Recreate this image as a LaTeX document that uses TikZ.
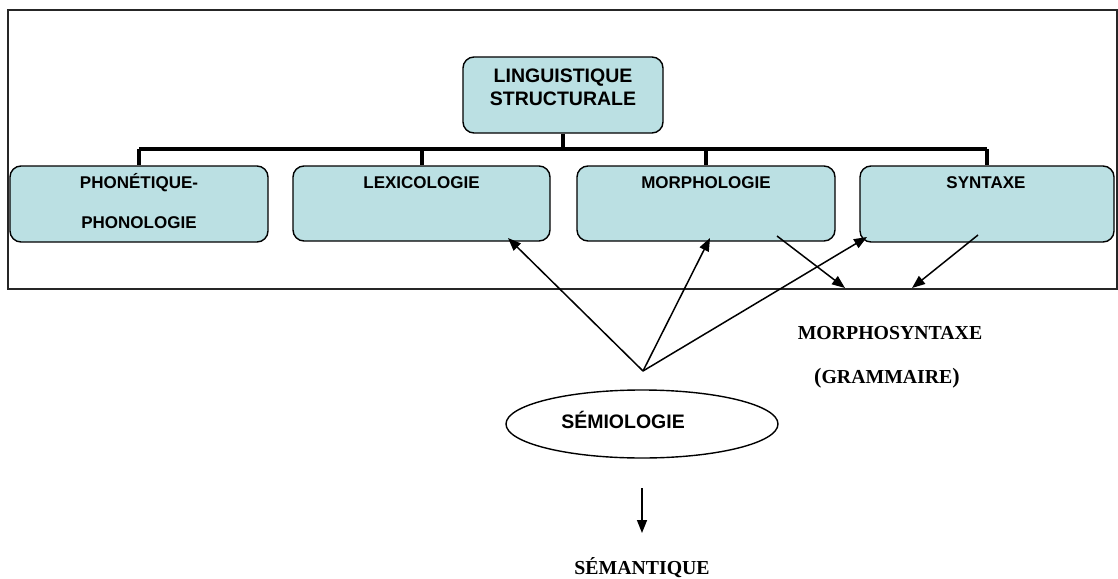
\documentclass[tikz,border=0pt]{standalone}
\usepackage{fontspec}
\setmainfont{Liberation Serif}
\setsansfont{Liberation Sans}
\usetikzlibrary{arrows.meta,shapes.geometric}
\definecolor{boxblue}{RGB}{187,224,227}
\begin{document}
\begin{tikzpicture}[x=1pt,y=-1pt,
  box/.style={draw=black, line width=1.4pt, fill=boxblue, rounded corners=11pt, inner sep=0pt},
  lbl/.style={font=\sffamily\bfseries\fontsize{17}{20}\selectfont, inner sep=0pt},
  toplbl/.style={font=\sffamily\bfseries\fontsize{19.5}{23}\selectfont, inner sep=0pt, align=center},
  serif/.style={font=\rmfamily\bfseries\fontsize{19.8}{23}\selectfont, inner sep=0pt},
  bus/.style={line width=4pt},
  arr/.style={line width=1.5pt, -{Triangle[length=13pt,width=10pt]}}]
\useasboundingbox (0,0) rectangle (1118,578);
% outer frame
\node[draw=black!85, line width=1.5pt, minimum width=1109, minimum height=279, inner sep=0pt] (frame) at (562.5,149.5) {};
% top node
\node[box, minimum width=200, minimum height=76] (top) at (563,95) {};
\node[toplbl] (toptxt) at (563,87) {LINGUISTIQUE\\STRUCTURALE};
% boxes
\node[box, minimum width=258, minimum height=76] (phon) at (139,204) {};
\node[box, minimum width=257, minimum height=75] (lex) at (421.5,203.5) {};
\node[box, minimum width=258, minimum height=75] (morph) at (706,203.5) {};
\node[box, minimum width=254, minimum height=76] (synt) at (987,204) {};
\node[lbl] (phontxt1) at (139,183) {PHONÉTIQUE-};
\node[lbl] (phontxt2) at (139,223) {PHONOLOGIE};
\node[lbl] (lextxt) at (421.5,183) {LEXICOLOGIE};
\node[lbl] (morphtxt) at (706,183) {MORPHOLOGIE};
\node[lbl] (synttxt) at (986,183) {SYNTAXE};
% bus
\coordinate (busL) at (phon.north |- 0,149);
\coordinate (busR) at (synt.north |- 0,149);
\draw[bus] (busL) -- (busR);
\draw[bus] (top.south) -- (top.south |- busL);
\draw[bus] (busL) -- (phon.north);
\draw[bus] (lex.north |- busL) -- (lex.north);
\draw[bus] (morph.north |- busL) -- (morph.north);
\draw[bus] (busR) -- (synt.north);
% ellipse
\node[draw=black, line width=1.4pt, ellipse, minimum width=272, minimum height=68, inner sep=0pt] (semio) at (642,424) {};
\node[lbl, font=\sffamily\bfseries\fontsize{19.5}{23}\selectfont] (semiotxt) at (623,420) {SÉMIOLOGIE};
% serif texts
\node[serif] (msyn) at (890,333) {MORPHOSYNTAXE};
\node[serif] (gram) at (887,378) {\fontsize{22}{23}\selectfont(\fontsize{19.8}{23}\selectfont GRAMMAIRE\fontsize{22}{23}\selectfont)};
\node[serif] (seman) at (642,568) {SÉMANTIQUE};
% arrows
\coordinate (apex) at (643,371);
\coordinate (lexT) at (508,238);
\coordinate (morphT) at (710,238);
\coordinate (syntT) at (867,237);
\coordinate (morphS) at (777,236);
\coordinate (msynA) at (845,288);
\coordinate (syntS) at (978,235);
\coordinate (msynB) at (912,288);
\coordinate (downS) at (642,488);
\coordinate (downE) at (642,533);
\draw[arr] (apex) -- (lexT);
\draw[arr] (apex) -- (morphT);
\draw[arr] (apex) -- (syntT);
\draw[arr] (morphS) -- (msynA);
\draw[arr] (syntS) -- (msynB);
\draw[arr] (downS) -- (downE);
\end{tikzpicture}
\end{document}
